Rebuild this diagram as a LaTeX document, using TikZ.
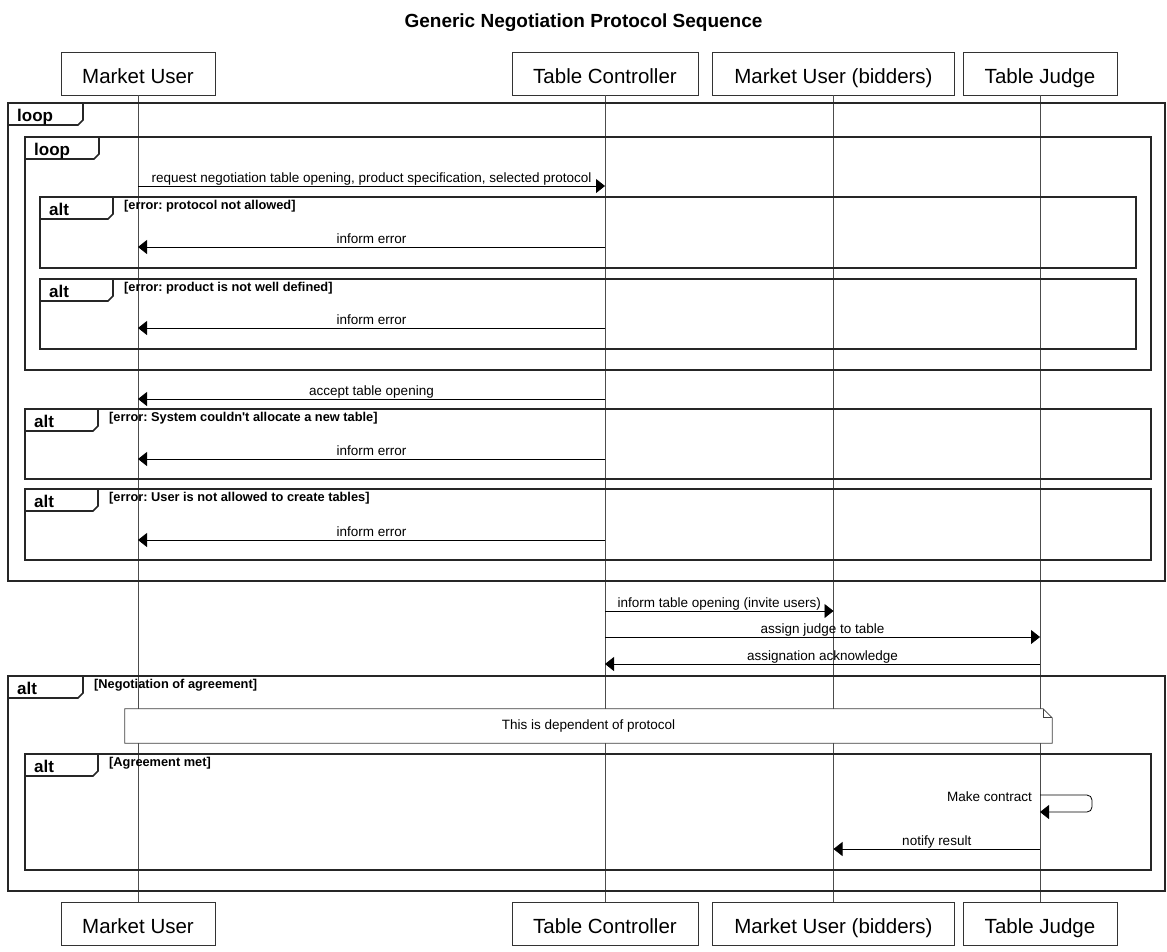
\documentclass[tikz,border=0pt]{standalone}
\usepackage{fontspec}
\setmainfont{Liberation Sans}
% same family without TeX ligature mapping, so ' stays a straight quote
\newfontfamily\guardfont{Liberation Sans}
\usetikzlibrary{arrows.meta}

% frame: name, x0, y0, x1, y1, tab width, operator, guard
\newcommand\seqframe[8]{%
  \draw[frameline] (#2,#3) rectangle (#4,#5);
  \draw[frameline] (#2,#3+22) -- (#2+#6-5,#3+22) -- (#2+#6,#3+17) -- (#2+#6,#3);
  \node[tablabel] (#1tab) at (#2+9,#3+18) {#7};
  \node[guardlabel] (#1guard) at (#2+#6+11,#3+12.5) {#8};
}

\begin{document}
\frenchspacing
\begin{tikzpicture}[x=1pt,y=-1pt,
  participant/.style={draw=black!80, line width=0.8pt, minimum height=43pt,
    inner sep=0pt, text height=20pt, text depth=1pt,
    font=\fontsize{20.5}{24}\selectfont},
  lifeline/.style={draw=black!70, line width=0.8pt},
  frameline/.style={draw=black!85, line width=1.6pt, line join=miter},
  tablabel/.style={anchor=base west, inner sep=0pt, font=\bfseries\fontsize{17}{20}\selectfont},
  guardlabel/.style={anchor=base west, inner sep=0pt, font=\guardfont\bfseries\fontsize{12.8}{15}\selectfont},
  msg/.style={draw=black, line width=0.8pt, -{Triangle[length=9pt,width=14pt]}},
  msglabel/.style={anchor=base, inner sep=0pt, yshift=4pt, font=\fontsize{13.5}{16}\selectfont},
  notebox/.style={draw=black!75, line width=0.8pt, fill=white},
  titlelabel/.style={font=\bfseries\fontsize{19}{22}\selectfont, inner sep=0pt}
]
\useasboundingbox (0,0) rectangle (1167,951);

% title
\node[titlelabel, anchor=base] (title) at (583.5,27) {Generic Negotiation Protocol Sequence};

% participants, head and foot
\node[participant, minimum width=154pt] (mu)  at (138,73.5)   {Market User};
\node[participant, minimum width=186pt] (tc)  at (605,73.5)   {Table Controller};
\node[participant, minimum width=242pt] (mub) at (833.5,73.5) {Market User (bidders)};
\node[participant, minimum width=154pt] (tj)  at (1040,73.5)  {Table Judge};
\node[participant, minimum width=154pt] (mu2)  at (138,923.5)   {Market User};
\node[participant, minimum width=186pt] (tc2)  at (605,923.5)   {Table Controller};
\node[participant, minimum width=242pt] (mub2) at (833.5,923.5) {Market User (bidders)};
\node[participant, minimum width=154pt] (tj2)  at (1040,923.5)  {Table Judge};

% lifelines
\draw[lifeline] (mu) -- (mu2);
\draw[lifeline] (tc) -- (tc2);
\draw[lifeline] (mub) -- (mub2);
\draw[lifeline] (tj) -- (tj2);

% combined fragments
\seqframe{outerloop}{8}{103}{1165}{581}{75}{loop}{}
\seqframe{innerloop}{25}{137}{1151}{370}{74}{loop}{}
\seqframe{altA}{40}{197}{1136}{268}{73}{alt}{[error: protocol not allowed]}
\seqframe{altB}{40}{279}{1136}{349}{73}{alt}{[error: product is not well defined]}
\seqframe{altC}{25}{409}{1151}{479}{73}{alt}{[error: System couldn't allocate a new table]}
\seqframe{altD}{25}{489}{1151}{560}{73}{alt}{[error: User is not allowed to create tables]}
\seqframe{altE}{8}{676}{1165}{891}{75}{alt}{[Negotiation of agreement]}
\seqframe{altF}{25}{754}{1151}{870}{73}{alt}{[Agreement met]}

% messages
\draw[msg] (mu |- 0,186) -- node[msglabel] (m1) {request negotiation table opening, product specification, selected protocol} (tc |- 0,186);
\draw[msg] (tc |- 0,247) -- node[msglabel] (m2) {inform error} (mu |- 0,247);
\draw[msg] (tc |- 0,328) -- node[msglabel] (m3) {inform error} (mu |- 0,328);
\draw[msg] (tc |- 0,399) -- node[msglabel] (m4) {accept table opening} (mu |- 0,399);
\draw[msg] (tc |- 0,459) -- node[msglabel] (m5) {inform error} (mu |- 0,459);
\draw[msg] (tc |- 0,540) -- node[msglabel] (m6) {inform error} (mu |- 0,540);
\draw[msg] (tc |- 0,611) -- node[msglabel] (m7) {inform table opening (invite users)} (mub |- 0,611);
\draw[msg] (tc |- 0,637) -- node[msglabel] (m8) {assign judge to table} (tj |- 0,637);
\draw[msg] (tj |- 0,664) -- node[msglabel] (m9) {assignation acknowledge} (tc |- 0,664);

% note
\node[inner sep=0pt, minimum width=927pt, minimum height=34pt] (note) at (588.5,726) {};
\draw[notebox] (note.north west) -- ([xshift=-9pt]note.north east) -- ([yshift=-9pt]note.north east)
  -- (note.south east) -- (note.south west) -- cycle;
\draw[notebox, fill=none] ([xshift=-9pt]note.north east) -- ([xshift=-9pt,yshift=-9pt]note.north east) -- ([yshift=-9pt]note.north east);
\node[font=\fontsize{13.5}{16}\selectfont, inner sep=0pt] (notetext) at (note) {This is dependent of protocol};

% self message and result
\draw[msg, rounded corners=5pt] (tj |- 0,795) -- ++(52,0) -- ++(0,17) -- (tj |- 0,812);
\node[anchor=base east, inner sep=0pt, font=\fontsize{13.5}{16}\selectfont] (selfmsg) at (1032,801) {Make contract};
\draw[msg] (tj |- 0,849) -- node[msglabel] (m10) {notify result} (mub |- 0,849);
\end{tikzpicture}
\end{document}
